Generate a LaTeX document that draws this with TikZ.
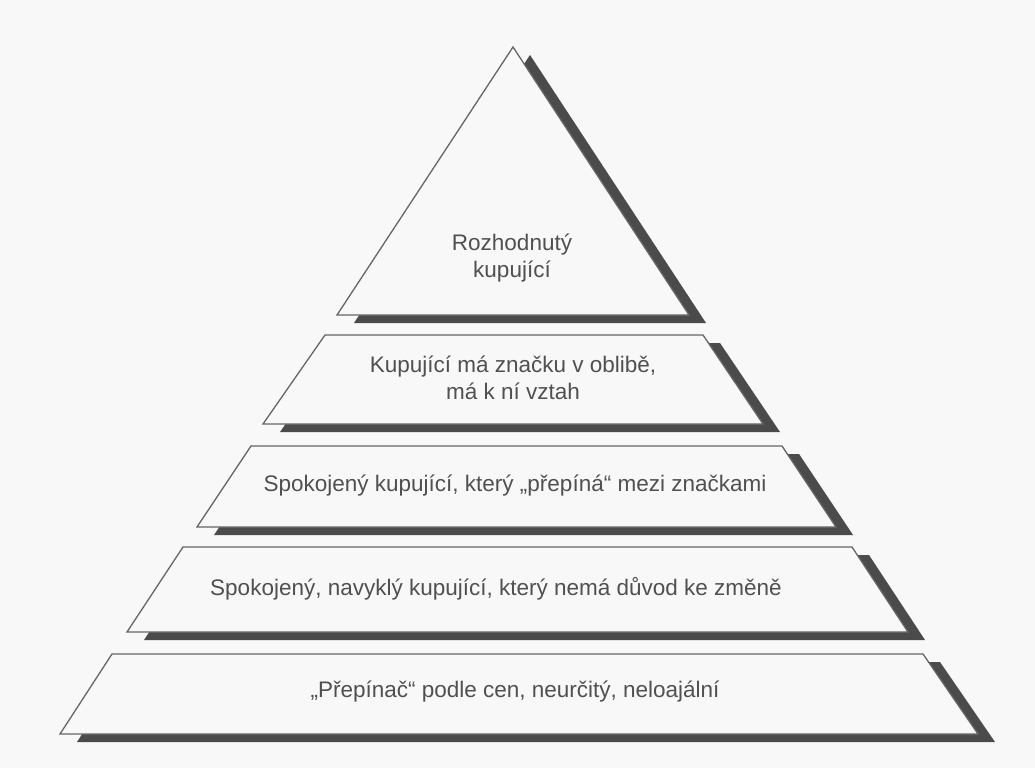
\documentclass[tikz,border=0pt]{standalone}
\usepackage{fontspec}
\setmainfont{Liberation Sans}
\definecolor{scanbg}{HTML}{F8F8F8}
\definecolor{edgegray}{HTML}{666666}
\definecolor{shadowgray}{HTML}{4B4B4B}
\definecolor{textgray}{HTML}{505050}
\tikzset{
  layer/.style={draw=edgegray, line width=1.3pt, fill=scanbg, line join=miter},
  shadow/.style={fill=shadowgray},
  caption/.style={text=textgray, align=center, font=\fontsize{22.5}{27}\selectfont},
}
\begin{document}
\begin{tikzpicture}[x=1pt,y=-1pt]
\fill[scanbg] (0,0) rectangle (1035,768);
\useasboundingbox (0,0) rectangle (1035,768);
% shadows
\begin{scope}[shift={(17,8)}]
\fill[shadow] (513,47) -- (689,315) -- (337,315) -- cycle;
\fill[shadow] (325,335) -- (703,335) -- (763,424) -- (263,424) -- cycle;
\fill[shadow] (251,446) -- (782,446) -- (836,527) -- (197,527) -- cycle;
\fill[shadow] (183,547) -- (852,547) -- (908,632) -- (127,632) -- cycle;
\fill[shadow] (112,654) -- (923,654) -- (978,734) -- (60,734) -- cycle;
\end{scope}
% layers
\draw[layer] (513,47) -- (689,315) -- (337,315) -- cycle;
\draw[layer] (325,335) -- (703,335) -- (763,424) -- (263,424) -- cycle;
\draw[layer] (251,446) -- (782,446) -- (836,527) -- (197,527) -- cycle;
\draw[layer] (183,547) -- (852,547) -- (908,632) -- (127,632) -- cycle;
\draw[layer] (112,654) -- (923,654) -- (978,734) -- (60,734) -- cycle;
% labels
\node[caption] (decided) at (512,258) {Rozhodnutý\\kupující};
\node[caption] (fond) at (513,378) {Kupující má značku v oblibě,\\má k ní vztah};
\node[caption] (switcher) at (515,486) {Spokojený kupující, který „přepíná“ mezi značkami};
\node[caption] (habitual) at (496,589) {Spokojený, navyklý kupující, který nemá důvod ke změně};
\node[caption] (price) at (515,692) {„Přepínač“ podle cen, neurčitý, neloajální};
\end{tikzpicture}
\end{document}
